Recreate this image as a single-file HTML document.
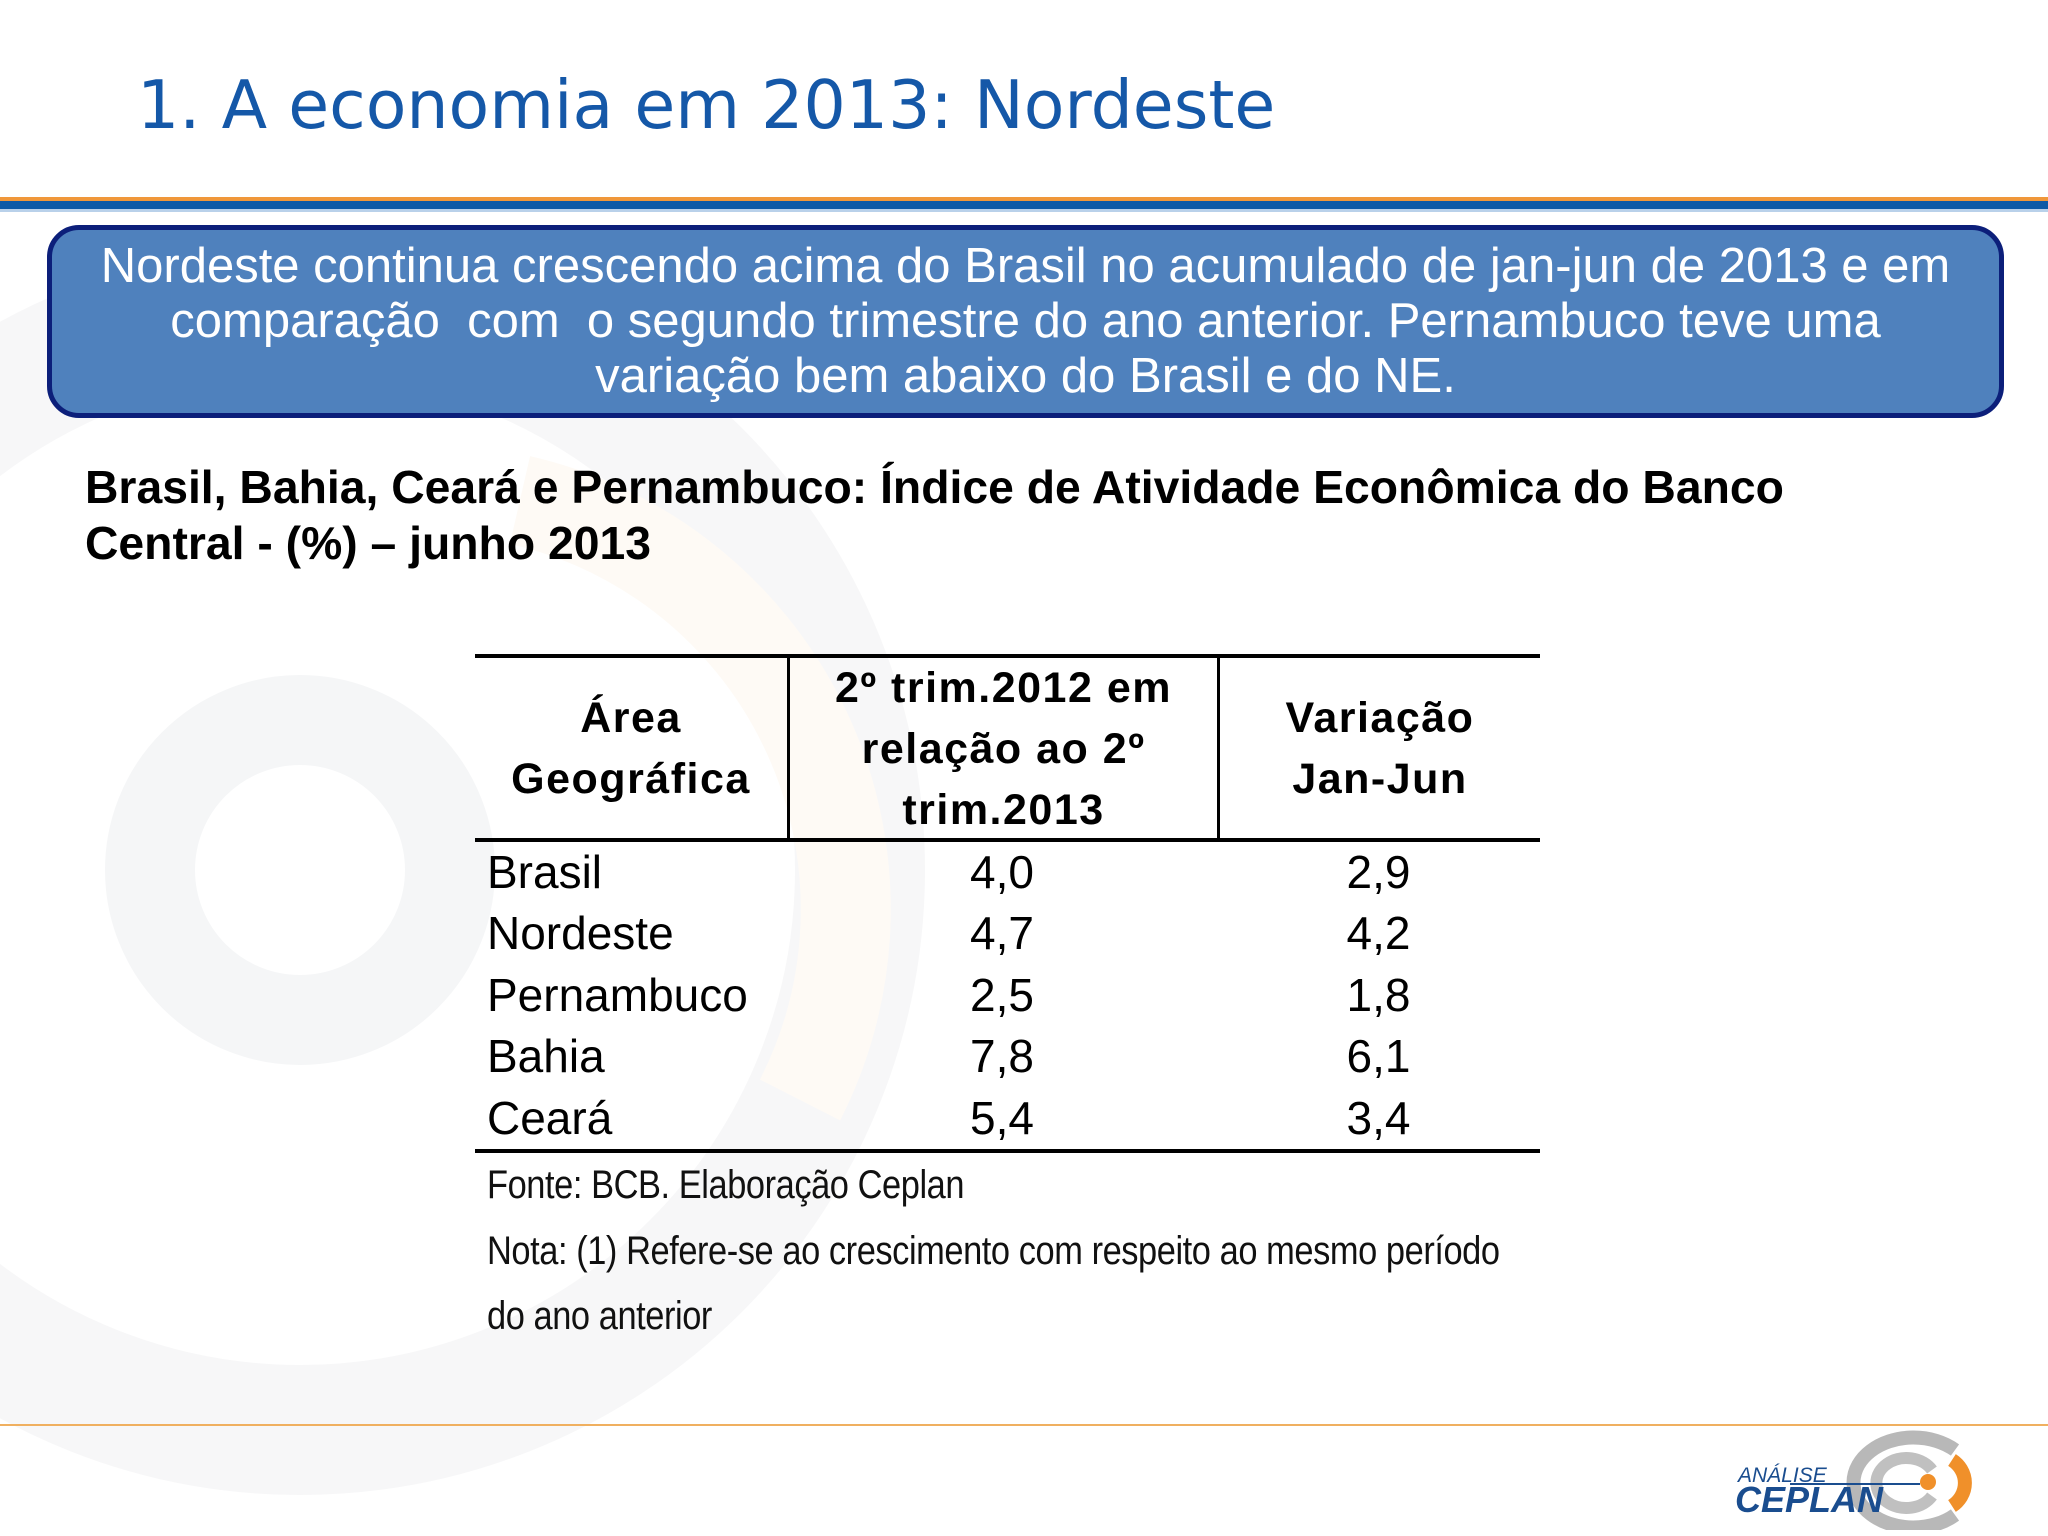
<!DOCTYPE html>
<html><head><meta charset="utf-8"><style>
body{margin:0;width:2048px;height:1536px;position:relative;overflow:hidden;background:#fff;font-family:"Liberation Sans",sans-serif}
.a{position:absolute}
.tb td{padding:0}
</style></head><body>
<svg class="a" style="left:0;top:0" width="2048" height="1536">
<circle cx="300" cy="870" r="560" fill="none" stroke="#f7f7f8" stroke-width="130"/>
<circle cx="300" cy="870" r="150" fill="none" stroke="#f5f6f7" stroke-width="90"/>
<path d="M520 500 A420 420 0 0 1 800 1100" fill="none" stroke="#fefaf5" stroke-width="90"/>
</svg>
<div class="a" style="left:137px;top:66px;font-size:66.5px;color:#1558a8;font-family:'DejaVu Sans','Liberation Sans',sans-serif;white-space:nowrap">1. A economia em 2013: Nordeste</div>
<div class="a" style="left:0;top:197px;width:2048px;height:4px;background:#f0973a"></div>
<div class="a" style="left:0;top:201px;width:2048px;height:8px;background:#0e5aa6"></div>
<div class="a" style="left:0;top:209px;width:2048px;height:3px;background:#b9d1ea"></div>
<div class="a" style="left:47px;top:225px;width:1947px;height:174px;background:#4f81bd;border:5px solid #0c1f7a;border-radius:32px;color:#fff;font-size:49px;text-align:center;line-height:55px;padding-top:9px;box-sizing:content-box">Nordeste continua crescendo acima do Brasil no acumulado de jan-jun de 2013 e em<br>comparação&nbsp; com&nbsp; o segundo trimestre do ano anterior. Pernambuco teve uma<br>variação bem abaixo do Brasil e do NE.</div>
<div class="a" style="left:85px;top:459px;font-size:46.3px;font-weight:bold;line-height:56px;color:#000;white-space:nowrap">Brasil, Bahia, Ceará e Pernambuco: Índice de Atividade Econômica do Banco<br>Central - (%) – junho 2013</div>
<div class="a" style="left:475px;top:654px;width:1065px">
<div style="border-top:4px solid #000;border-bottom:4px solid #000;height:180px;position:relative;font-weight:bold;font-size:43px;letter-spacing:1.5px;line-height:61px;text-align:center">
<div class="a" style="left:0;top:30px;width:312px">Área<br>Geográfica</div>
<div class="a" style="left:312px;top:0;width:3px;height:180px;background:#000"></div>
<div class="a" style="left:315px;top:0;width:427px">2º trim.2012 em<br>relação ao 2º<br>trim.2013</div>
<div class="a" style="left:742px;top:0;width:3px;height:180px;background:#000"></div>
<div class="a" style="left:745px;top:30px;width:320px">Variação<br>Jan-Jun</div>
</div>
<table class="tb" style="border-collapse:collapse;table-layout:fixed;width:1065px;font-size:46px;line-height:61.4px;border-bottom:4px solid #000">
<colgroup><col style="width:312px"><col style="width:430px"><col style="width:323px"></colgroup>
<tr><td style="padding-left:12px">Brasil</td><td style="text-align:center">4,0</td><td style="text-align:center">2,9</td></tr>
<tr><td style="padding-left:12px">Nordeste</td><td style="text-align:center">4,7</td><td style="text-align:center">4,2</td></tr>
<tr><td style="padding-left:12px">Pernambuco</td><td style="text-align:center">2,5</td><td style="text-align:center">1,8</td></tr>
<tr><td style="padding-left:12px">Bahia</td><td style="text-align:center">7,8</td><td style="text-align:center">6,1</td></tr>
<tr><td style="padding-left:12px">Ceará</td><td style="text-align:center">5,4</td><td style="text-align:center">3,4</td></tr>
</table>
</div>
<div class="a" style="left:487px;top:1153px;font-size:40px;line-height:65.5px;color:#111;transform:scaleX(0.86);transform-origin:0 0;white-space:nowrap;letter-spacing:-0.5px">Fonte: BCB. Elaboração Ceplan<br>Nota: (1) Refere-se ao crescimento com respeito ao mesmo período<br>do ano anterior</div>
<div class="a" style="left:0;top:1424px;width:2048px;height:2px;background:#f0b060"></div>
<svg class="a" style="left:1720px;top:1430px" width="260" height="100">
<path d="M235 20 A60 45 0 1 0 235 85" fill="none" stroke="#b8b8b8" stroke-width="14"/>
<path d="M212 40 A30 25 0 1 0 212 66" fill="none" stroke="#c0c0c0" stroke-width="12"/>
<path d="M232 30 A30 28 0 0 1 232 76" fill="none" stroke="#f0902a" stroke-width="14"/>
<circle cx="208" cy="52" r="8" fill="#f0902a"/>
<line x1="70" y1="54" x2="200" y2="54" stroke="#1a4d8f" stroke-width="2"/>
<text x="18" y="52" font-size="21" font-style="italic" fill="#1a4d8f" font-family="Liberation Sans">ANÁLISE</text>
<text x="15" y="82" font-size="36" font-weight="bold" font-style="italic" fill="#1a4d8f" font-family="Liberation Sans">CEPLAN</text>
</svg>
</body></html>
